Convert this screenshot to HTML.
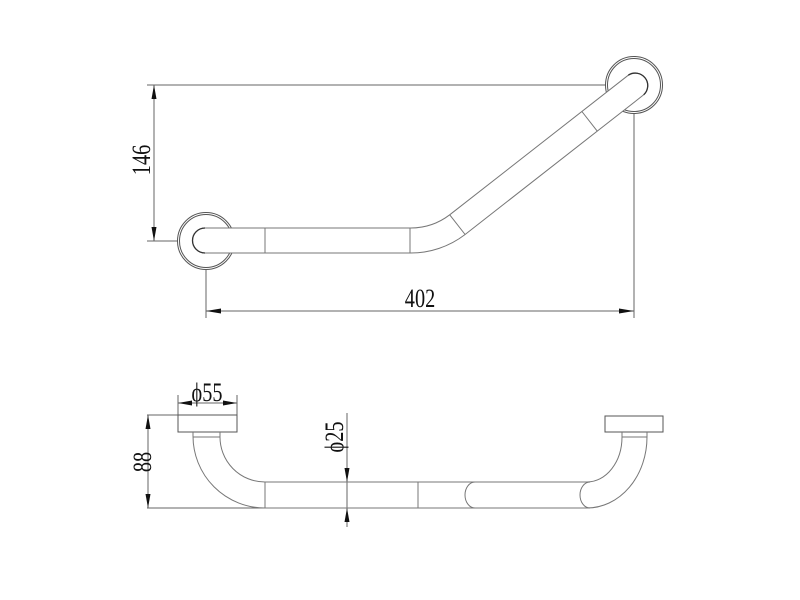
<!DOCTYPE html>
<html><head><meta charset="utf-8"><style>
html,body{margin:0;padding:0;background:#fff;}
svg{display:block;}
text{font-family:"Liberation Serif",serif;fill:#111;}
</style></head><body>
<svg width="800" height="600" viewBox="0 0 800 600" xmlns="http://www.w3.org/2000/svg">
<g fill="none" stroke="#666" stroke-width="1">
<line x1="147" y1="85" x2="606" y2="85"/>
<line x1="147" y1="241" x2="177" y2="241"/>
<line x1="154" y1="85" x2="154" y2="241"/>
<line x1="206" y1="270" x2="206" y2="318"/>
<line x1="634" y1="114" x2="634" y2="318"/>
<line x1="206" y1="311" x2="634" y2="311"/>
</g>
<g fill="#111">
<polygon points="154,85 151.5,99 156.5,99"/>
<polygon points="154,241 151.5,227 156.5,227"/>
<polygon points="206,311 221,308.5 221,313.5"/>
<polygon points="634,311 619,308.5 619,313.5"/>
</g>
<text transform="translate(150,160) rotate(-90) scale(0.78,1)" font-size="26" text-anchor="middle">146</text>
<text transform="translate(420,307) scale(0.78,1)" font-size="26" text-anchor="middle">402</text>
<g fill="#fff" stroke="#555" stroke-width="1">
<circle cx="206" cy="241" r="28.5"/>
<circle cx="206" cy="241" r="26.5"/>
<circle cx="634" cy="85" r="28.5"/>
<circle cx="634" cy="85" r="26.5"/>
</g>
<path d="M205,228 L410,228 A64.5,64.5 0 0 0 449.7,214.8 L628.3,75.2 A12.5,12.5 0 0 1 643.7,94.8 L465.1,234.5 A89.5,89.5 0 0 1 410,253 L205,253 A12.5,12.5 0 0 1 205,228 Z" fill="#fff" stroke="#777" stroke-width="1"/>
<path d="M205,253 A12.5,12.5 0 0 1 205,228 M628.3,75.2 A12.5,12.5 0 0 1 643.7,94.8" fill="none" stroke="#333" stroke-width="1.3"/>
<g stroke="#777" stroke-width="1">
<line x1="265" y1="228" x2="265" y2="253"/>
<line x1="410" y1="228" x2="410" y2="253"/>
<line x1="449.7" y1="214.8" x2="465.1" y2="234.5"/>
<line x1="581.9" y1="111.5" x2="597.3" y2="131.2"/>
</g>

<g fill="none" stroke="#666" stroke-width="1">
<line x1="178" y1="395" x2="178" y2="415"/>
<line x1="237" y1="395" x2="237" y2="415"/>
<line x1="178" y1="403" x2="237" y2="403"/>
<line x1="147" y1="415" x2="178" y2="415"/>
<line x1="148" y1="415" x2="148" y2="508"/>
<line x1="147" y1="508" x2="265" y2="508"/>
<line x1="347" y1="413" x2="347" y2="527"/>
</g>
<g fill="#111">
<polygon points="178,403 192,400.5 192,405.5"/>
<polygon points="237,403 223,400.5 223,405.5"/>
<polygon points="148,415 145.5,429 150.5,429"/>
<polygon points="148,508 145.5,494 150.5,494"/>
<polygon points="347,482 344.5,468 349.5,468"/>
<polygon points="347,508 344.5,522 349.5,522"/>
</g>
<text transform="translate(207,401) scale(0.78,1)" font-size="26" text-anchor="middle">ϕ55</text>
<text transform="translate(151,462) rotate(-90) scale(0.78,1)" font-size="26" text-anchor="middle">88</text>
<text transform="translate(343,437) rotate(-90) scale(0.78,1)" font-size="26" text-anchor="middle">ϕ25</text>
<g fill="none" stroke="#555" stroke-width="1">
<rect x="178" y="415" width="59" height="17"/>
<rect x="605" y="416" width="58" height="16"/>
</g>
<g fill="none" stroke="#777" stroke-width="1">
<line x1="193" y1="437" x2="220" y2="437"/>
<line x1="622" y1="437" x2="647" y2="437"/>
<path d="M193,432 L193,436 A72,72 0 0 0 265,508"/>
<path d="M220,432 L220,436 A45,45 0 0 0 265,482"/>
<line x1="265" y1="482" x2="590" y2="482"/>
<line x1="265" y1="508" x2="590" y2="508"/>
<line x1="265" y1="482" x2="265" y2="508"/>
<line x1="418" y1="482" x2="418" y2="508"/>
<path d="M475,482 A10,13 0 0 0 475,508"/>
<path d="M590,482 A10,13 0 0 0 590,508"/>
<path d="M622,432 L622,437 A35,45 0 0 1 587,482"/>
<path d="M647,432 L647,437 A60,71 0 0 1 587,508"/>
</g>
</svg>
</body></html>
